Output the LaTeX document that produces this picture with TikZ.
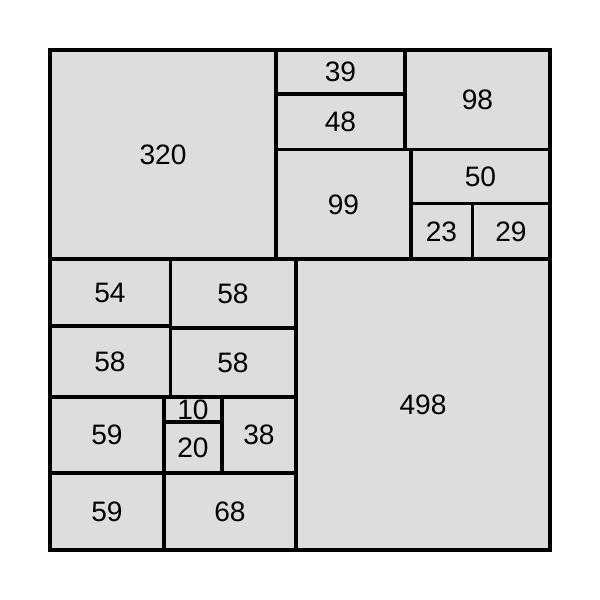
\documentclass[tikz,border=0pt]{standalone}
\usepackage{fontspec}
\setmainfont{Liberation Sans}
\usepackage{xcolor}
\usepackage{tikz}
\usetikzlibrary{positioning, calc}

\definecolor{tilefill}{HTML}{DDDDDD}

\begin{document}
\begin{tikzpicture}[
    x=0.02cm,
    y=-0.02cm,
    tile/.style={
        draw=black,
        fill=tilefill,
        line width=1.9pt
    },
    num/.style={
        font=\fontsize{16}{18}\selectfont,
        inner sep=0pt
    }
]
\useasboundingbox (0,0) rectangle (600,600);

% Top band
\draw[tile] (50,50) rectangle (276,259);
\draw[tile] (276,50) rectangle (405,94);
\draw[tile] (276,94) rectangle (405,149.5);
\draw[tile] (405,50) rectangle (550,149.5);
\draw[tile] (276,149.5) rectangle (411,259);
\draw[tile] (411,149.5) rectangle (550,203.5);
\draw[tile] (411,203.5) rectangle (472.5,259);
\draw[tile] (472.5,203.5) rectangle (550,259);

% Bottom band
\draw[tile] (296,259) rectangle (550,550);
\draw[tile] (50,259) rectangle (170.5,326);
\draw[tile] (50,326) rectangle (170.5,397);
\draw[tile] (170.5,259) rectangle (296,328);
\draw[tile] (170.5,328) rectangle (296,397);
\draw[tile] (50,397) rectangle (164,473);
\draw[tile] (164,397) rectangle (222,422);
\draw[tile] (164,422) rectangle (222,473);
\draw[tile] (222,397) rectangle (296,473);
\draw[tile] (50,473) rectangle (164,550);
\draw[tile] (164,473) rectangle (296,550);

% Labels
\node[num] (t320) at (163,155) {320};
\node[num] (t39) at (340.5,72) {39};
\node[num] (t48a) at (340.5,122) {48};
\node[num] (t98) at (477.5,100) {98};
\node[num] (t99) at (343.5,204.5) {99};
\node[num] (t50) at (480.5,177) {50};
\node[num] (t23) at (441.5,231.5) {23};
\node[num] (t29) at (511,231.5) {29};
\node[num] (t498) at (423,405) {498};
\node[num] (t54) at (110,293) {54};
\node[num] (t58a) at (110,361.5) {58};
\node[num] (t58b) at (233,294) {58};
\node[num] (t58c) at (233,362.5) {58};
\node[num] (t59a) at (107,435) {59};
\node[num] (t10) at (193,410) {10};
\node[num] (t20) at (193,448) {20};
\node[num] (t38) at (259,435) {38};
\node[num] (t59b) at (107,511.5) {59};
\node[num] (t68) at (230,511.5) {68};

\end{tikzpicture}
\end{document}
